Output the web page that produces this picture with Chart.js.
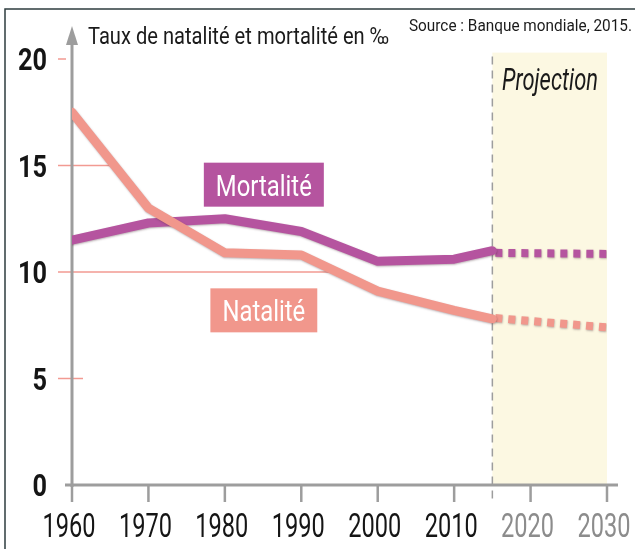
<!DOCTYPE html>
<html lang="fr">
<head>
<meta charset="utf-8">
<title>Taux de natalité et mortalité</title>
<script src="https://cdn.jsdelivr.net/npm/chart.js@4.4.1/dist/chart.umd.min.js"></script>
<style>
  html, body { margin: 0; padding: 0; background: #fff; }
  #wrap { width: 635px; height: 549px; }
</style>
</head>
<body>
<div id="wrap"><canvas id="chart" width="635" height="549"></canvas></div>
<script>
// Données
const years = [1960, 1970, 1980, 1990, 2000, 2010, 2015];
const natalite = [17.5, 13.0, 10.9, 10.8, 9.1, 8.2, 7.8];
const mortalite = [11.5, 12.3, 12.5, 11.9, 10.5, 10.6, 11.0];

// Projection
const projYears = [2015, 2030];
const natProj = [7.85, 7.4];
const morProj = [10.9, 10.85];

const yTicks = [0, 5, 10, 15, 20];

const FONT = 'Roboto, "Liberation Sans", sans-serif';
const VIOLET = '#b5549f';
const SAUMON = '#f1978c';
const GRIS = '#9d9d9d';

function pts(xs, ys) {
    return xs.map((x, i) => ({ x: x, y: ys[i] }));
}

// texte "condensé" : on resserre horizontalement la police
function condText(ctx, txt, x, y, font, sx, align) {
    ctx.save();
    ctx.font = font;
    ctx.textAlign = align || 'left';
    ctx.textBaseline = 'alphabetic';
    ctx.translate(x, y);
    ctx.scale(sx, 1);
    ctx.fillText(txt, 0, 0);
    ctx.restore();
}

function fitScale(ctx, txt, font, w) {
    ctx.save();
    ctx.font = font;
    const m = ctx.measureText(txt).width;
    ctx.restore();
    return w / m;
}

// Dessin des axes, zone de projection et étiquettes
const decor = {
    id: 'decor',
    beforeDatasetsDraw(chart) {
        const { ctx, scales: { x, y } } = chart;
        const x0 = x.getPixelForValue(1960);
        const xp = x.getPixelForValue(projYears[0]);
        const xe = x.getPixelForValue(2030);
        const yb = y.getPixelForValue(0);
        const yTop = y.getPixelForValue(20.3);
        ctx.save();

        // zone projection
        ctx.fillStyle = '#fcf8e2';
        ctx.fillRect(xp, yTop, xe - xp, yb - yTop);

        // lignes horizontales jusqu'à la courbe de natalité
        ctx.strokeStyle = '#f29a92';
        ctx.lineWidth = 1.5;
        yTicks.forEach(v => {
            if (v === 0) return;
            const py = y.getPixelForValue(v);
            let end = null;
            for (let i = 0; i < years.length - 1; i++) {
                const a = natalite[i], b = natalite[i + 1];
                if ((a - v) * (b - v) <= 0 && a !== b) {
                    const yr = years[i] + (v - a) / (b - a) * (years[i + 1] - years[i]);
                    end = x.getPixelForValue(yr);
                    break;
                }
            }
            if (end === null) end = v === 20 ? x0 - 6 : x0 + 11;
            ctx.beginPath();
            ctx.moveTo(x0 - 14, py);
            ctx.lineTo(end, py);
            ctx.stroke();
        });

        // axe des ordonnées avec flèche
        ctx.strokeStyle = GRIS;
        ctx.fillStyle = GRIS;
        ctx.lineWidth = 3;
        ctx.beginPath();
        ctx.moveTo(x0, yb + 2);
        ctx.lineTo(x0, 42);
        ctx.stroke();
        ctx.beginPath();
        ctx.moveTo(x0 - 6, 45);
        ctx.lineTo(x0, 26);
        ctx.lineTo(x0 + 6, 45);
        ctx.closePath();
        ctx.fill();

        // axe des abscisses et graduations
        ctx.beginPath();
        ctx.moveTo(x0 - 7, yb);
        ctx.lineTo(xe + 11, yb);
        ctx.stroke();
        ctx.lineWidth = 2.5;
        x.ticks.forEach(t => {
            const px = x.getPixelForValue(t.value);
            ctx.beginPath();
            ctx.moveTo(px, yb);
            ctx.lineTo(px, yb + 17);
            ctx.stroke();
        });

        // trait pointillé début projection
        ctx.lineWidth = 1.5;
        ctx.setLineDash([8, 6]);
        ctx.beginPath();
        ctx.moveTo(xp, yTop + 4);
        ctx.lineTo(xp, yb + 16);
        ctx.stroke();
        ctx.setLineDash([]);
        ctx.restore();
    },
    // légère ombre sous les courbes
    beforeDatasetDraw(chart) {
        const c = chart.ctx;
        c.save();
        c.shadowColor = 'rgba(70, 40, 50, 0.35)';
        c.shadowBlur = 2;
        c.shadowOffsetX = 0.5;
        c.shadowOffsetY = 1;
    },
    afterDatasetDraw(chart) {
        chart.ctx.restore();
    },
    afterDatasetsDraw(chart) {
        const { ctx, scales: { x, y } } = chart;
        ctx.save();

        // étiquettes des axes
        ctx.fillStyle = '#151515';
        const fy = 'bold 31px ' + FONT;
        const sy = fitScale(ctx, '20', fy, 29);
        y.ticks.forEach(t => {
            condText(ctx, String(t.value), 47, y.getPixelForValue(t.value) + 11, fy, sy, 'right');
        });
        const fx = '33px ' + FONT;
        const sx = fitScale(ctx, '1960', fx, 53);
        x.ticks.forEach(t => {
            ctx.fillStyle = t.value > projYears[0] ? '#8c8c8c' : '#151515';
            condText(ctx, String(t.value), x.getPixelForValue(t.value) - 3, 537, fx, sx, 'center');
        });

        // étiquettes des courbes
        const fb = '30px ' + FONT;
        const sb = fitScale(ctx, 'Mortalité', fb, 96);
        const box = (txt, yr, val, col) => {
            ctx.font = fb;
            const w = ctx.measureText(txt).width * sb + 24;
            const cx = x.getPixelForValue(yr), cy = y.getPixelForValue(val);
            ctx.fillStyle = col;
            ctx.fillRect(cx - w / 2, cy - 22, w, 44);
            ctx.fillStyle = '#fff';
            condText(ctx, txt, cx, cy + 11, fb, sb, 'center');
        };
        box('Mortalité', 1985.1, 14.1, VIOLET);
        box('Natalité', 1985.1, 8.2, SAUMON);

        // textes
        ctx.fillStyle = '#1a1a1a';
        const ft = '23px ' + FONT;
        const title = 'Taux de natalité et mortalité en ‰';
        condText(ctx, title, 88, 44, ft, fitScale(ctx, title, ft, 301));
        const fs = '17px ' + FONT;
        const src = 'Source : Banque mondiale, 2015.';
        condText(ctx, src, 409, 31, fs, fitScale(ctx, src, fs, 223));
        const fp = 'italic 31px ' + FONT;
        condText(ctx, 'Projection', 502, 90, fp, fitScale(ctx, 'Projection', fp, 96));

        // cadre
        ctx.strokeStyle = '#2e3d3f';
        ctx.lineWidth = 1.5;
        ctx.beginPath();
        ctx.moveTo(5, 549);
        ctx.lineTo(5, 9);
        ctx.lineTo(635, 9);
        ctx.stroke();
        ctx.restore();
    }
};

const ctx = document.getElementById('chart').getContext('2d');
const chart = new Chart(ctx, {
    type: 'line',
    data: {
        datasets: [
            {
                label: 'Natalité',
                data: pts(years, natalite),
                borderColor: SAUMON,
                borderWidth: 9,
                borderCapStyle: 'round',
                borderJoinStyle: 'round',
                pointRadius: 0
            },
            {
                label: 'Mortalité',
                data: pts(years, mortalite),
                borderColor: VIOLET,
                borderWidth: 9,
                borderCapStyle: 'round',
                borderJoinStyle: 'round',
                pointRadius: 0
            },
            {
                label: 'Natalité (projection)',
                data: pts(projYears, natProj),
                borderColor: SAUMON,
                borderWidth: 8,
                borderDash: [7, 6],
                borderDashOffset: -3,
                pointRadius: 0
            },
            {
                label: 'Mortalité (projection)',
                data: pts(projYears, morProj),
                borderColor: VIOLET,
                borderWidth: 8,
                borderDash: [7, 6],
                borderDashOffset: -3,
                pointRadius: 0
            }
        ]
    },
    options: {
        responsive: false,
        animation: false,
        devicePixelRatio: 1,
        layout: { padding: { top: 59, right: 28, left: 0, bottom: 0 } },
        plugins: { legend: { display: false }, tooltip: { enabled: false } },
        scales: {
            x: {
                type: 'linear',
                min: 1960,
                max: 2030,
                afterFit: s => { s.height = 64; s.paddingLeft = 0; s.paddingRight = 0; },
                grid: { display: false },
                border: { display: false },
                ticks: { stepSize: 10, display: false }
            },
            y: {
                min: 0,
                max: 20,
                afterFit: s => { s.width = 72; s.paddingTop = 0; s.paddingBottom = 0; },
                afterBuildTicks: s => { s.ticks = yTicks.map(v => ({ value: v })); },
                grid: { display: false },
                border: { display: false },
                ticks: { display: false }
            }
        }
    },
    plugins: [decor]
});
</script>
</body>
</html>
